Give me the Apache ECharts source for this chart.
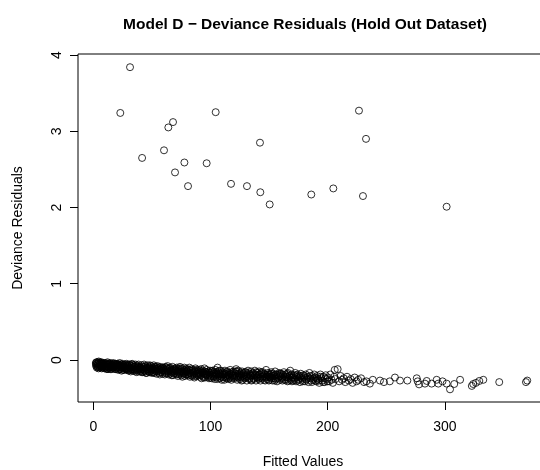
<!DOCTYPE html>
<html>
<head>
<meta charset="utf-8">
<script src="https://cdn.jsdelivr.net/npm/echarts@6/dist/echarts.min.js"></script>
<style>
  html, body { margin: 0; padding: 0; background: #fff; }
  #chart { width: 540px; height: 470px; }
</style>
</head>
<body>
<div id="chart"></div>
<script>
// tick labels
const xTicks = [0, 100, 200, 300];
const yTicks = [0, 1, 2, 3, 4];

// large residuals
const outlierPoints = [
  [31.3, 3.84], [23.0, 3.24], [104.4, 3.25], [226.7, 3.27], [68.0, 3.12],
  [64.0, 3.05], [232.7, 2.90], [142.2, 2.85], [41.6, 2.65], [60.3, 2.75],
  [77.7, 2.59], [96.7, 2.58], [69.7, 2.46], [80.8, 2.28], [117.5, 2.31],
  [131.1, 2.28], [142.5, 2.20], [150.5, 2.04], [186.0, 2.17], [204.8, 2.25],
  [230.1, 2.15], [301.5, 2.01]
];

// the dense band near zero (estimated, it is solid black in the picture)
const bulkPoints = [
  [2.1,-0.04],[2.4,-0.08],[2.8,-0.05],[3.0,-0.10],[3.3,-0.03],[3.7,-0.07],[4.0,-0.09],[4.2,-0.05],[4.6,-0.02],[4.9,-0.08],[5.3,-0.06],[5.6,-0.10],[5.9,-0.04],[6.3,-0.07],[6.7,-0.09],[7.0,-0.03],[7.4,-0.06],[7.8,-0.10],[8.1,-0.05],[8.5,-0.08],[8.8,-0.04],[9.2,-0.07],[9.5,-0.11],[9.9,-0.05],
  [10.3,-0.08],[10.6,-0.04],[11.0,-0.11],[11.4,-0.06],[11.8,-0.09],[12.1,-0.03],[12.5,-0.12],[12.9,-0.07],[13.2,-0.05],[13.6,-0.10],[14.0,-0.08],[14.3,-0.04],[14.7,-0.12],[15.1,-0.06],[15.5,-0.09],[15.8,-0.05],[16.2,-0.11],[16.6,-0.07],[17.0,-0.04],[17.3,-0.10],[17.7,-0.08],[18.1,-0.06],[18.5,-0.12],[18.9,-0.05],[19.3,-0.09],[19.7,-0.07],
  [20.1,-0.11],[20.5,-0.05],[20.9,-0.08],[21.3,-0.13],[21.7,-0.06],[22.1,-0.10],[22.5,-0.04],[22.9,-0.12],[23.3,-0.08],[23.7,-0.06],[24.1,-0.14],[24.5,-0.09],[24.9,-0.05],[25.3,-0.11],[25.7,-0.07],[26.1,-0.13],[26.5,-0.09],[26.9,-0.06],[27.3,-0.12],[27.7,-0.08],[28.1,-0.10],[28.5,-0.05],[28.9,-0.13],[29.3,-0.07],[29.7,-0.11],
  [30.2,-0.09],[30.6,-0.13],[31.0,-0.06],[31.4,-0.11],[31.9,-0.15],[32.3,-0.08],[32.7,-0.12],[33.1,-0.05],[33.6,-0.10],[34.0,-0.14],[34.4,-0.07],[34.8,-0.12],[35.2,-0.09],[35.7,-0.15],[36.1,-0.06],[36.5,-0.11],[36.9,-0.13],[37.4,-0.08],[37.8,-0.10],[38.2,-0.14],[38.6,-0.06],[39.1,-0.12],[39.5,-0.09],[39.9,-0.15],
  [40.3,-0.10],[40.7,-0.14],[41.2,-0.07],[41.6,-0.12],[42.0,-0.16],[42.5,-0.09],[42.9,-0.13],[43.3,-0.06],[43.8,-0.11],[44.2,-0.15],[44.6,-0.08],[45.1,-0.13],[45.5,-0.17],[45.9,-0.10],[46.4,-0.07],[46.8,-0.14],[47.2,-0.12],[47.7,-0.16],[48.1,-0.09],[48.5,-0.11],[49.0,-0.15],[49.4,-0.08],[49.8,-0.13],
  [50.2,-0.16],[50.7,-0.10],[51.1,-0.13],[51.6,-0.07],[52.0,-0.17],[52.5,-0.11],[52.9,-0.14],[53.4,-0.09],[53.8,-0.18],[54.3,-0.12],[54.7,-0.08],[55.2,-0.15],[55.6,-0.11],[56.1,-0.17],[56.5,-0.13],[57.0,-0.09],[57.4,-0.16],[57.9,-0.12],[58.3,-0.14],[58.8,-0.10],[59.2,-0.18],[59.7,-0.13],
  [60.1,-0.11],[60.6,-0.15],[61.0,-0.19],[61.5,-0.09],[62.0,-0.13],[62.4,-0.17],[62.9,-0.11],[63.3,-0.08],[63.8,-0.15],[64.3,-0.19],[64.7,-0.12],[65.2,-0.14],[65.6,-0.10],[66.1,-0.18],[66.6,-0.13],[67.0,-0.16],[67.5,-0.09],[67.9,-0.20],[68.4,-0.12],[68.9,-0.15],[69.3,-0.17],[69.8,-0.11],
  [70.2,-0.14],[70.7,-0.18],[71.1,-0.10],[71.6,-0.16],[72.1,-0.21],[72.5,-0.12],[73.0,-0.15],[73.5,-0.19],[73.9,-0.09],[74.4,-0.13],[74.9,-0.17],[75.3,-0.20],[75.8,-0.11],[76.3,-0.15],[76.7,-0.18],[77.2,-0.13],[77.7,-0.10],[78.1,-0.21],[78.6,-0.16],[79.1,-0.12],[79.5,-0.19],
  [80.0,-0.15],[80.5,-0.12],[81.0,-0.20],[81.4,-0.17],[81.9,-0.10],[82.4,-0.22],[82.9,-0.14],[83.3,-0.18],[83.8,-0.12],[84.3,-0.21],[84.8,-0.16],[85.2,-0.13],[85.7,-0.19],[86.2,-0.23],[86.7,-0.15],[87.1,-0.11],[87.6,-0.18],[88.1,-0.21],[88.6,-0.14],[89.0,-0.17],[89.5,-0.20],
  [90.0,-0.13],[90.5,-0.22],[91.0,-0.16],[91.5,-0.19],[91.9,-0.12],[92.4,-0.24],[92.9,-0.17],[93.4,-0.14],[93.9,-0.21],[94.3,-0.18],[94.8,-0.11],[95.3,-0.23],[95.8,-0.16],[96.3,-0.20],[96.7,-0.13],[97.2,-0.18],[97.7,-0.22],[98.2,-0.15],[98.7,-0.24],[99.1,-0.19],[99.6,-0.14],
  [100.1,-0.21],[100.6,-0.17],[101.1,-0.24],[101.6,-0.14],[102.1,-0.19],[102.5,-0.22],[103.0,-0.16],[103.5,-0.25],[104.0,-0.13],[104.5,-0.20],[105.0,-0.18],[105.5,-0.23],[106.0,-0.10],[106.4,-0.15],[106.9,-0.21],[107.4,-0.17],[107.9,-0.24],[108.4,-0.19],[108.9,-0.14],[109.4,-0.22],[109.8,-0.18],
  [110.3,-0.16],[110.8,-0.23],[111.3,-0.19],[111.8,-0.26],[112.3,-0.14],[112.8,-0.21],[113.3,-0.18],[113.8,-0.24],[114.3,-0.15],[114.8,-0.20],[115.3,-0.25],[115.8,-0.17],[116.3,-0.22],[116.8,-0.13],[117.3,-0.19],[117.8,-0.26],[118.3,-0.16],[118.8,-0.23],[119.3,-0.20],
  [119.8,-0.17],[120.3,-0.24],[120.8,-0.20],[121.3,-0.15],[121.8,-0.12],[122.3,-0.22],[122.8,-0.26],[123.3,-0.18],[123.8,-0.14],[124.3,-0.21],[124.9,-0.25],[125.4,-0.17],[125.9,-0.23],[126.4,-0.19],[126.9,-0.15],[127.4,-0.26],[127.9,-0.21],[128.4,-0.17],[128.9,-0.24],[129.4,-0.20],
  [130.0,-0.16],[130.5,-0.23],[131.0,-0.27],[131.5,-0.19],[132.0,-0.14],[132.6,-0.22],[133.1,-0.25],[133.6,-0.18],[134.1,-0.21],[134.6,-0.15],[135.2,-0.26],[135.7,-0.20],[136.2,-0.17],[136.7,-0.24],[137.3,-0.22],[137.8,-0.14],[138.3,-0.19],[138.8,-0.27],[139.4,-0.23],
  [139.9,-0.17],[140.4,-0.21],[141.0,-0.25],[141.5,-0.15],[142.0,-0.19],[142.6,-0.27],[143.1,-0.22],[143.6,-0.18],[144.2,-0.24],[144.7,-0.16],[145.2,-0.21],[145.8,-0.26],[146.3,-0.19],[146.8,-0.23],[147.4,-0.13],[147.9,-0.20],[148.4,-0.25],[149.0,-0.17],[149.5,-0.22],
  [150.1,-0.26],[150.7,-0.19],[151.2,-0.23],[151.8,-0.16],[152.3,-0.21],[152.9,-0.27],[153.5,-0.18],[154.0,-0.24],[154.6,-0.20],[155.1,-0.15],[155.7,-0.25],[156.3,-0.22],[156.8,-0.28],[157.4,-0.19],[158.0,-0.23],[158.5,-0.17],[159.1,-0.26],[159.7,-0.21],
  [160.2,-0.18],[160.8,-0.24],[161.4,-0.27],[162.0,-0.20],[162.6,-0.16],[163.2,-0.23],[163.8,-0.26],[164.4,-0.19],[165.0,-0.22],[165.6,-0.28],[166.2,-0.17],[166.8,-0.24],[167.4,-0.21],[168.0,-0.14],[168.6,-0.26],[169.2,-0.19],[169.8,-0.23],
  [170.4,-0.27],[171.0,-0.20],[171.7,-0.24],[172.3,-0.17],[173.0,-0.28],[173.6,-0.22],[174.3,-0.19],[175.0,-0.25],[175.6,-0.21],[176.3,-0.29],[177.0,-0.18],[177.7,-0.24],[178.4,-0.26],[179.1,-0.20],
  [179.8,-0.23],[180.6,-0.28],[181.3,-0.19],[182.1,-0.25],[182.9,-0.22],[183.6,-0.29],[184.4,-0.17],[185.2,-0.24],[186.0,-0.27],[186.8,-0.21],[187.6,-0.26],[188.5,-0.19],[189.3,-0.23],
  [190.1,-0.28],[191.0,-0.21],[191.9,-0.25],[192.8,-0.30],[193.7,-0.19],[194.6,-0.24],[195.5,-0.27],[196.4,-0.22],[197.4,-0.29],[198.3,-0.20],[199.3,-0.25],
  [200.3,-0.23],[201.2,-0.28],[202.2,-0.19],[203.3,-0.26],[204.4,-0.30],[205.5,-0.22],[206.0,-0.13],[206.7,-0.25],[208.5,-0.12],[209.8,-0.28],[211.0,-0.21],[212.3,-0.26],[213.7,-0.24],[215.0,-0.29],
  [216.5,-0.22],[218.0,-0.27],[219.6,-0.25],[221.3,-0.30],[223.0,-0.23],[224.7,-0.28],[226.0,-0.26],[228.5,-0.24],[231.0,-0.29],[233.0,-0.28],[236.0,-0.31],[238.5,-0.26]
];

// more of the band, lying between the points above
const bulkPointsB = [
  [2.3,-0.06],[2.6,-0.03],[3.5,-0.09],[3.9,-0.04],[4.4,-0.11],[5.1,-0.03],[5.8,-0.08],[6.5,-0.05],[7.2,-0.11],[7.6,-0.04],[8.3,-0.09],[9.0,-0.06],[9.7,-0.09],
  [10.1,-0.06],[10.9,-0.09],[11.6,-0.12],[12.3,-0.05],[13.0,-0.10],[13.8,-0.06],[14.5,-0.09],[15.3,-0.12],[16.0,-0.07],[16.8,-0.10],[17.5,-0.05],[18.3,-0.09],[19.1,-0.12],[19.9,-0.06],
  [20.3,-0.09],[21.1,-0.06],[21.9,-0.12],[22.7,-0.07],[23.5,-0.10],[24.3,-0.06],[25.1,-0.13],[25.9,-0.09],[26.7,-0.11],[27.5,-0.06],[28.3,-0.12],[29.1,-0.09],[29.9,-0.14],
  [30.4,-0.07],[31.2,-0.10],[32.0,-0.13],[32.9,-0.06],[33.8,-0.12],[34.6,-0.09],[35.4,-0.13],[36.3,-0.08],[37.1,-0.16],[37.9,-0.12],[38.8,-0.09],[39.7,-0.11],
  [40.5,-0.12],[41.4,-0.16],[42.3,-0.11],[43.1,-0.14],[44.0,-0.09],[44.9,-0.17],[45.7,-0.12],[46.6,-0.10],[47.5,-0.15],[48.3,-0.07],[49.2,-0.12],[49.9,-0.17],
  [50.5,-0.12],[51.4,-0.16],[52.3,-0.09],[53.1,-0.12],[54.0,-0.15],[54.9,-0.10],[55.8,-0.13],[56.7,-0.19],[57.6,-0.11],[58.5,-0.16],[59.4,-0.10],
  [60.4,-0.13],[61.3,-0.17],[62.2,-0.10],[63.1,-0.14],[64.0,-0.17],[64.9,-0.11],[65.9,-0.15],[66.8,-0.20],[67.7,-0.14],[68.6,-0.18],[69.6,-0.13],
  [70.5,-0.12],[71.4,-0.19],[72.3,-0.14],[73.2,-0.17],[74.1,-0.11],[75.1,-0.15],[76.0,-0.22],[77.0,-0.17],[77.9,-0.14],[78.9,-0.19],[79.8,-0.14],
  [80.7,-0.18],[81.7,-0.13],[82.6,-0.17],[83.6,-0.20],[84.5,-0.14],[85.5,-0.17],[86.4,-0.21],[87.4,-0.13],[88.3,-0.19],[89.3,-0.15],
  [90.2,-0.18],[91.2,-0.14],[92.1,-0.20],[93.1,-0.16],[94.1,-0.23],[95.0,-0.15],[96.0,-0.19],[97.0,-0.16],[98.0,-0.20],[98.9,-0.17],[99.9,-0.23],
  [100.9,-0.15],[101.9,-0.21],[102.8,-0.18],[103.8,-0.22],[104.8,-0.16],[105.8,-0.25],[106.7,-0.19],[107.7,-0.14],[108.7,-0.21],[109.6,-0.26],
  [110.6,-0.19],[111.6,-0.17],[112.6,-0.23],[113.6,-0.16],[114.6,-0.22],[115.6,-0.19],[116.6,-0.24],[117.6,-0.18],[118.6,-0.21],[119.6,-0.15],
  [120.6,-0.22],[121.6,-0.18],[122.6,-0.15],[123.6,-0.23],[124.6,-0.19],[125.6,-0.21],[126.6,-0.27],[127.7,-0.18],[128.7,-0.22],[129.7,-0.16],
  [130.8,-0.21],[131.8,-0.17],[132.8,-0.24],[133.9,-0.20],[134.9,-0.27],[135.9,-0.18],[137.0,-0.25],[138.0,-0.20],[139.1,-0.16],
  [140.2,-0.23],[141.2,-0.19],[142.3,-0.24],[143.4,-0.16],[144.5,-0.22],[145.5,-0.18],[146.6,-0.27],[147.7,-0.22],[148.8,-0.19],[149.8,-0.27],
  [150.4,-0.22],[151.5,-0.18],[152.6,-0.24],[153.7,-0.21],[154.8,-0.27],[155.9,-0.19],[157.1,-0.24],[158.2,-0.21],[159.4,-0.18],
  [160.5,-0.22],[161.7,-0.19],[162.9,-0.26],[164.1,-0.22],[165.3,-0.18],[166.5,-0.27],[167.7,-0.23],[168.9,-0.20],[169.5,-0.28],
  [170.7,-0.23],[172.0,-0.26],[173.3,-0.20],[174.6,-0.27],[176.0,-0.23],[177.3,-0.21],[178.7,-0.28],
  [180.2,-0.21],[181.7,-0.26],[183.2,-0.24],[184.8,-0.21],[186.4,-0.29],[188.0,-0.24],[189.7,-0.27],
  [190.6,-0.24],[192.3,-0.27],[194.1,-0.22],[196.0,-0.29],[197.9,-0.24],[199.8,-0.28]
];

// sparse tail on the right
const tailPoints = [
  [244.6,-0.27],[248.0,-0.29],[253.0,-0.28],[257.4,-0.23],[261.7,-0.27],[268.0,-0.27],
  [276.0,-0.24],[276.8,-0.28],[278.0,-0.32],[283.0,-0.31],[284.5,-0.275],[288.7,-0.31],
  [293.0,-0.26],[294.4,-0.31],[298.0,-0.28],[301.5,-0.31],[304.4,-0.385],[308.0,-0.315],
  [313.0,-0.26],[323.0,-0.34],[324.2,-0.315],[326.5,-0.30],[329.4,-0.275],[332.8,-0.26],
  [346.4,-0.29],[369.2,-0.29],[370.3,-0.27]
];

const fontFamily = '"Liberation Sans", Arial, Helvetica, sans-serif';

const chart = echarts.init(document.getElementById('chart'), null, { renderer: 'canvas' });

chart.setOption({
  animation: false,
  backgroundColor: '#fff',
  title: {
    text: 'Model D \u2212 Deviance Residuals (Hold Out Dataset)',
    left: 300,
    top: 12,
    textAlign: 'center',
    textStyle: { fontFamily: fontFamily, fontWeight: 'bold', fontSize: 15.5, color: '#000' }
  },
  grid: {
    left: 78,
    right: -4,
    top: 54,
    bottom: 68,
    outerBoundsMode: 'none',
    containLabel: false,
    show: true,
    borderColor: '#000',
    borderWidth: 1,
    backgroundColor: 'transparent'
  },
  xAxis: {
    type: 'value',
    min: -13.1,
    max: 384.6,
    name: 'Fitted Values',
    nameLocation: 'middle',
    nameGap: 53,
    nameTextStyle: { fontFamily: fontFamily, fontSize: 14, color: '#000', padding: [0, 16, 0, 0] },
    axisLine: { show: false, onZero: false },
    splitLine: { show: false },
    axisTick: { show: true, length: 8, customValues: xTicks, lineStyle: { color: '#000' } },
    axisLabel: { customValues: xTicks, margin: 18, fontFamily: fontFamily, fontSize: 14, color: '#000' }
  },
  yAxis: {
    type: 'value',
    min: -0.551,
    max: 4.013,
    name: 'Deviance Residuals',
    nameLocation: 'middle',
    nameGap: 53,
    nameRotate: 90,
    nameTextStyle: { fontFamily: fontFamily, fontSize: 14, color: '#000' },
    axisLine: { show: false, onZero: false },
    splitLine: { show: false },
    axisTick: { show: true, length: 8, customValues: yTicks, lineStyle: { color: '#000' } },
    axisLabel: { customValues: yTicks, rotate: 90, margin: 14, fontFamily: fontFamily, fontSize: 14, color: '#000' }
  },
  series: [{
    type: 'scatter',
    symbol: 'circle',
    symbolSize: 7,
    silent: true,
    itemStyle: { color: 'rgba(0,0,0,0)', borderColor: '#000', borderWidth: 1 },
    data: outlierPoints.concat(bulkPoints, bulkPointsB, tailPoints)
  }]
});
</script>
</body>
</html>
